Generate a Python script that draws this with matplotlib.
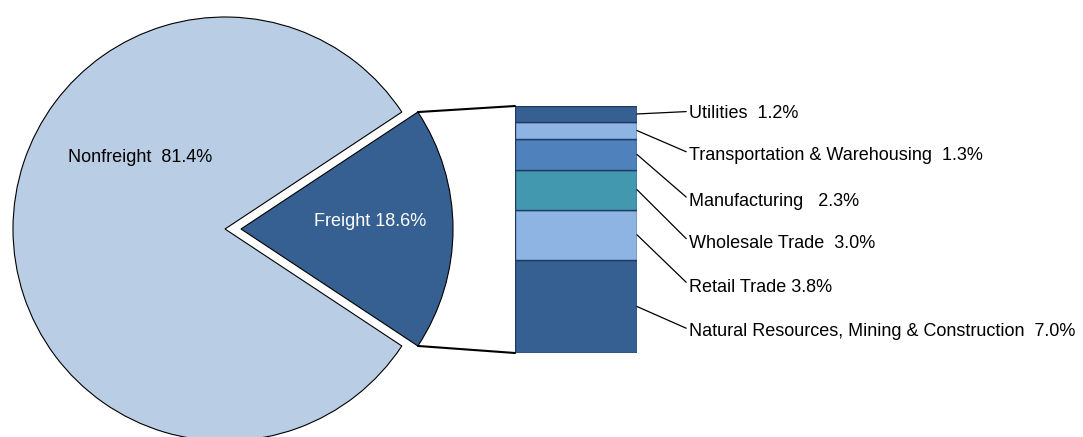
import matplotlib
matplotlib.use("Agg")
import matplotlib.pyplot as plt
from matplotlib.patches import ConnectionPatch
from matplotlib import font_manager
import numpy as np

# ---- data ----
pie_labels = ["Freight", "Nonfreight"]
pie_values = [18.6, 81.4]
pie_colors = ["#366092", "#b9cde5"]

seg_labels = ["Natural Resources, Mining & Construction", "Retail Trade",
              "Wholesale Trade", "Manufacturing",
              "Transportation & Warehousing", "Utilities"]
seg_values = [7.0, 3.8, 3.0, 2.3, 1.3, 1.2]
seg_colors = ["#366092", "#8eb4e3", "#4198af", "#4f81bd", "#8eb4e3", "#366092"]
seg_text = ["Natural Resources, Mining & Construction  7.0%", "Retail Trade 3.8%",
            "Wholesale Trade  3.0%", "Manufacturing   2.3%",
            "Transportation & Warehousing  1.3%", "Utilities  1.2%"]
# label vertical positions (pixels from top)
label_y = [331.5, 287, 243.5, 201.5, 155, 113.5]

names = {f.name for f in font_manager.fontManager.ttflist}
fam = "Liberation Sans Narrow" if "Liberation Sans Narrow" in names else "Liberation Sans"
plt.rcParams["font.family"] = [fam, "DejaVu Sans"]

W, H = 1083, 437
fig = plt.figure(figsize=(W / 100, H / 100), dpi=100)
ax = fig.add_axes([0, 0, 1, 1])

cx, cy, r = 225, H - 229, 212
explode_px = 16
start = -pie_values[0] / 2 * 3.6
wedges, _ = ax.pie(pie_values, colors=pie_colors, startangle=start,
                   center=(cx, cy), radius=r, frame=True,
                   explode=[explode_px, 0],
                   wedgeprops=dict(edgecolor="black", linewidth=0.8))
ax.set_xlim(0, W)
ax.set_ylim(0, H)
ax.set_aspect("auto")
ax.axis("off")

ax.text(140, H - 158, f"Nonfreight  {pie_values[1]:.1f}%", ha="center", va="center",
        fontsize=13, color="black")
ax.text(370, H - 222, f"Freight {pie_values[0]:.1f}%", ha="center", va="center",
        fontsize=13, color="white")

# stacked bar
bx0, bx1, by_top, by_bot = 515, 637, 106, 353
ax2 = fig.add_axes([bx0 / W, (H - by_bot) / H, (bx1 - bx0) / W, (by_bot - by_top) / H])
total = sum(seg_values)
bottoms = np.concatenate([[0], np.cumsum(seg_values)[:-1]])
ax2.bar(0, seg_values, bottom=bottoms, width=1.0, color=seg_colors,
        edgecolor="#1f3a60", linewidth=1.0)
ax2.set_xlim(-0.5, 0.5)
ax2.set_ylim(0, total)
ax2.axis("off")

# connectors from the freight wedge to the bar
half = np.deg2rad(pie_values[0] / 2 * 3.6)
apx = cx + explode_px
for sgn, yb in [(1, total), (-1, 0)]:
    corner = (apx + r * np.cos(half), cy + sgn * r * np.sin(half))
    con = ConnectionPatch(xyA=corner, coordsA=ax.transData, xyB=(-0.5, yb),
                          coordsB=ax2.transData, color="black", linewidth=1.5)
    fig.add_artist(con)

# labels
for val, b, txt, ly in zip(seg_values, bottoms, seg_text, label_y):
    ax2.annotate(txt, xy=(0.5, b + val / 2), xycoords="data",
                 xytext=(689, H - ly), textcoords=ax.transData,
                 ha="left", va="center", fontsize=13, annotation_clip=False,
                 arrowprops=dict(arrowstyle="-", color="black", lw=0.9,
                                 relpos=(0, 0.62), shrinkA=0, shrinkB=0))

fig.savefig("out.png", dpi=100)
